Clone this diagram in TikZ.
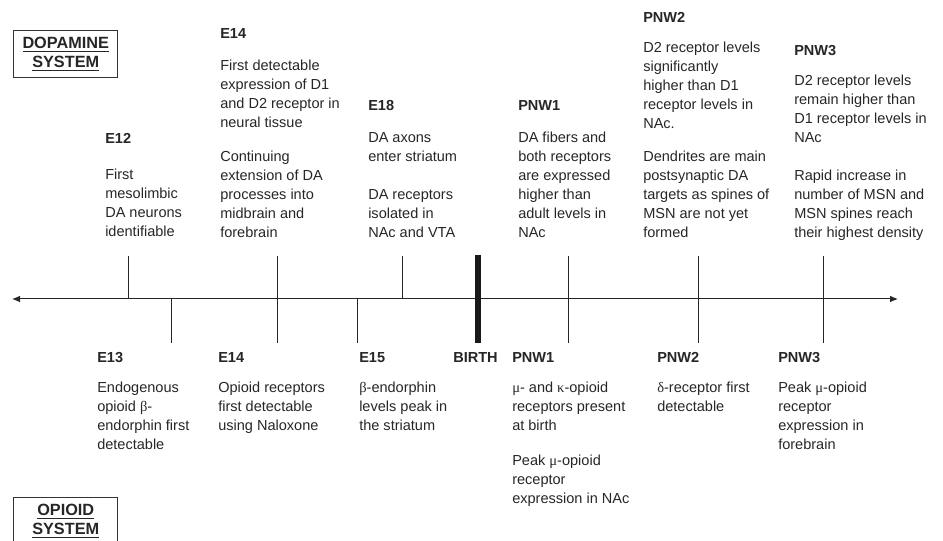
\documentclass[tikz,border=0pt]{standalone}
\usepackage{fontspec}
\setmainfont{Liberation Sans}
\newfontfamily\grkfont{Liberation Serif}
\usetikzlibrary{arrows.meta}
\newcommand{\gk}[1]{{\grkfont #1}}

\begin{document}
\begin{tikzpicture}[x=0.75pt, y=-0.75pt,
  every node/.style={inner sep=0pt, anchor=north west, align=left,
    font=\fontsize{10.9}{14.25}\selectfont, text=black!85},
  evt/.style={font=\fontsize{10.9}{14.25}\selectfont\bfseries},
  sysbox/.style={draw=black!80, line width=1.1pt, align=center, minimum width=78pt,
    minimum height=35pt, font=\fontsize{12.2}{14.25}\selectfont\bfseries},
  tick/.style={line width=0.75pt, black!85},
  axtip/.tip={Latex[length=6pt, width=5pt]}]
  \clip (0,0) rectangle (943,541);

  % System boxes
  \node[sysbox] (dopa) at (13,30) {\underline{DOPAMINE}\\\underline{SYSTEM}};
  \node[sysbox] (opio) at (13,497) {\underline{OPIOID}\\\underline{SYSTEM}};

  % Time axis
  \coordinate (axL) at (12,299);
  \coordinate (axR) at (898,299);
  \draw[tick, axtip-axtip] (axL) -- (axR);

  % Ticks: dopamine above, opioid below
  \foreach \x in {128,277,402,568,698,823}
    \draw[tick] (\x,256) -- (\x,299);
  \foreach \x in {171,277,357,568,698,823}
    \draw[tick] (\x,299) -- (\x,343);

  % Birth
  \draw[line width=4.5pt, black!90] (478,255) -- (478,343);

  % Dopamine events
  \node[evt] (e12) at (105,133) {E12};
  \node (e12a) at (105,169) {First\\mesolimbic\\DA neurons\\identifiable};
  \node[evt] (e14) at (220,28) {E14};
  \node (e14a) at (220,60) {First detectable\\expression of D1\\and D2 receptor in\\neural tissue};
  \node (e14b) at (220,151) {Continuing\\extension of DA\\processes into\\midbrain and\\forebrain};
  \node[evt] (e18) at (368,100) {E18};
  \node (e18a) at (368,132) {DA axons\\enter striatum};
  \node (e18b) at (368,189) {DA receptors\\isolated in\\NAc and VTA};
  \node[evt] (pnw1) at (518,100) {PNW1};
  \node (pnw1a) at (518,132) {DA fibers and\\both receptors\\are expressed\\higher than\\adult levels in\\NAc};
  \node[evt] (pnw2) at (643,12) {PNW2};
  \node (pnw2a) at (643,42) {D2 receptor levels\\significantly\\higher than D1\\receptor levels in\\NAc.};
  \node (pnw2b) at (643,151) {Dendrites are main\\postsynaptic DA\\targets as spines of\\MSN are not yet\\formed};
  \node[evt] (pnw3) at (794,45) {PNW3};
  \node (pnw3a) at (794,75) {D2 receptor levels\\remain higher than\\D1 receptor levels in\\NAc};
  \node (pnw3b) at (794,170) {Rapid increase in\\number of MSN and\\MSN spines reach\\their highest density};

  % Opioid events
  \node[evt] (e13) at (97,352) {E13};
  \node (e13a) at (97,382) {Endogenous\\opioid \gk{β}-\\endorphin first\\detectable};
  \node[evt] (e14o) at (218,352) {E14};
  \node (e14oa) at (218,382) {Opioid receptors\\first detectable\\using Naloxone};
  \node[evt] (e15) at (359,352) {E15};
  \node (e15a) at (359,382) {\gk{β}-endorphin\\levels peak in\\the striatum};
  \node[evt] (birth) at (453,352) {BIRTH};
  \node[evt] (pnw1o) at (512,352) {PNW1};
  \node (pnw1oa) at (512,382) {\gk{μ}- and \gk{κ}-opioid\\receptors present\\at birth};
  \node (pnw1ob) at (512,455) {Peak \gk{μ}-opioid\\receptor\\expression in NAc};
  \node[evt] (pnw2o) at (657,352) {PNW2};
  \node (pnw2oa) at (657,382) {\gk{δ}-receptor first\\detectable};
  \node[evt] (pnw3o) at (778,352) {PNW3};
  \node (pnw3oa) at (778,382) {Peak \gk{μ}-opioid\\receptor\\expression in\\forebrain};
\end{tikzpicture}
\end{document}
